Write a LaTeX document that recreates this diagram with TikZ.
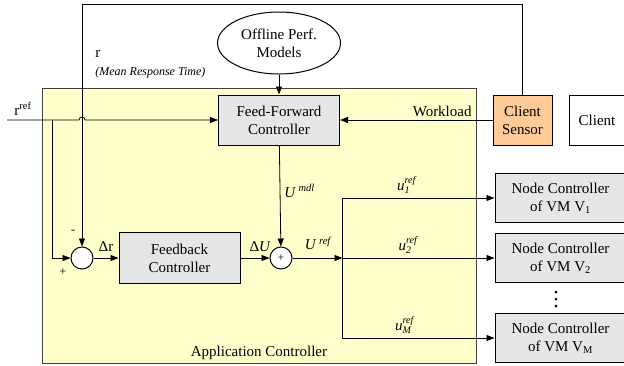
\documentclass[tikz,border=0pt]{standalone}
\usepackage{fontspec}
\setmainfont{Liberation Serif}
\usetikzlibrary{arrows.meta,positioning,calc,shapes.geometric}

\definecolor{appyellow}{HTML}{FFFFCC}
\definecolor{boxgray}{HTML}{E6E6E6}
\definecolor{sensororange}{HTML}{FFCC99}

% italic variable with stacked ref superscript and index subscript
\newcommand{\refsig}[2]{\textit{#1}\rlap{\raisebox{7pt}{\fontsize{10}{10}\selectfont\textit{ref}}}%
  \raisebox{-3.5pt}{\fontsize{10}{10}\selectfont\textit{#2}}\hspace{0.8em}}

\begin{document}
\begin{tikzpicture}[x=1pt, y=-1pt,
  font=\fontsize{15}{18}\selectfont,
  box/.style={draw, line width=1pt, fill=boxgray, align=center, inner sep=0pt,
    minimum height=50pt},
  ctrl/.style={box, minimum width=121pt},
  nodectrl/.style={box, minimum width=131pt, minimum height=49pt},
  sensorbox/.style={box, fill=sensororange, minimum width=59pt},
  clientbox/.style={box, fill=white, minimum width=56pt},
  sumnode/.style={draw, circle, fill=white, line width=1pt, minimum size=22pt,
    inner sep=0pt},
  lbl/.style={inner sep=0pt},
  small/.style={font=\fontsize{12}{14}\selectfont},
  >={Triangle[length=8pt,width=6pt]}, line width=0.8pt]
  \useasboundingbox (0,0) rectangle (624,365);

  % application controller frame
  \node[draw=black!75, fill=appyellow, line width=1pt, inner sep=0pt,
    minimum width=434pt, minimum height=275pt] (app) at (259,225.5) {};
  \node[lbl, above=3pt of app.south] (applbl) {Application Controller};

  % upper row
  \node[ctrl] (ff) at (279,120) {Feed-Forward\\Controller};
  \node[ellipse, draw, line width=1pt, fill=white, align=center, inner sep=0pt,
    minimum width=123pt, minimum height=62pt, above=20pt of ff] (models)
    {Offline Perf.\\Models};
  \node[sensorbox, right=152.5pt of ff] (sensor) {Client\\Sensor};
  \node[clientbox, right=16pt of sensor] (client) {Client};

  % feedback path
  \node[sumnode] (sum1) at (82,258) {};
  \node[ctrl, minimum height=51pt, right=25pt of sum1] (fb) {Feedback\\Controller};
  \node[sumnode, right=29pt of fb] (sum2) {\fontsize{12}{12}\selectfont +};
  \coordinate[right=50pt of sum2] (split);

  % node controllers
  \node[nodectrl, right=152pt of split] (nc2) {Node Controller\\of VM V\textsubscript{2}};
  \node[nodectrl, above=10pt of nc2] (nc1) {Node Controller\\of VM V\textsubscript{1}};
  \node[nodectrl, below=30pt of nc2] (ncm) {Node Controller\\of VM V\textsubscript{M}};
  \coordinate (dots) at ($(nc2.south)!0.5!(ncm.north)+(-4.5,1)$);
  \foreach \dy in {-7,0,7}
    \fill ($(dots)+(0,\dy)$) circle (1.5pt);

  % reference input with a hop over the measured r line
  \coordinate (rin) at (7,120);
  \coordinate (tap) at ($(rin)+(45,0)$);
  \node[lbl, anchor=base west] (rreflbl) at (14,115) {r\textsuperscript{ref}};
  \draw[->] (rin) -- ($(sum1.north |- rin)+(-3pt,0)$) arc (180:0:3pt) -- (ff.west);
  \draw[->] (tap) |- (sum1.west);

  % measured response time loop
  \coordinate (loop) at (sum1 |- 0,4);
  \draw[->] (sensor.north) |- (loop) -- (sum1.north);
  \node[lbl, anchor=base west] (rlbl) at (95,57) {r};
  \node[lbl, small, anchor=base west] (mrtlbl) at (95,75) {\textit{(Mean Response Time)}};
  \node[lbl, small] (minus) at (73,232) {-};
  \node[lbl, small] (plus) at (63,272) {+};

  \draw[->] (models) -- (ff);
  \draw[->] (sensor) -- node[lbl, above=3pt, pos=0.33] {Workload} (ff);
  \draw[->] (sum1) -- node[lbl, above=6pt] {Δr} (fb);
  \draw[->] (fb) -- node[lbl, above=6pt, pos=0.68] {Δ\textit{U}} (sum2);
  \draw[->] (ff) -- node[lbl, right=4pt, pos=0.45] {\textit{U}\,\textsuperscript{\textit{mdl}}} (sum2);
  \draw[->] (sum2) -- node[lbl, above=8pt, pos=0.52] {\textit{U}\,\textsuperscript{\textit{ref}}} (split);

  % distribution to the node controllers
  \draw[->] (split) |- node[lbl, above=4pt, pos=0.7] {\refsig{u}{1}} (nc1.west);
  \draw[->] (split) -- node[lbl, above=4pt, pos=0.41] {\refsig{u}{2}} (nc2);
  \draw[->] (split) |- node[lbl, above=4pt, pos=0.7] {\refsig{u}{M}} (ncm.west);
\end{tikzpicture}
\end{document}
